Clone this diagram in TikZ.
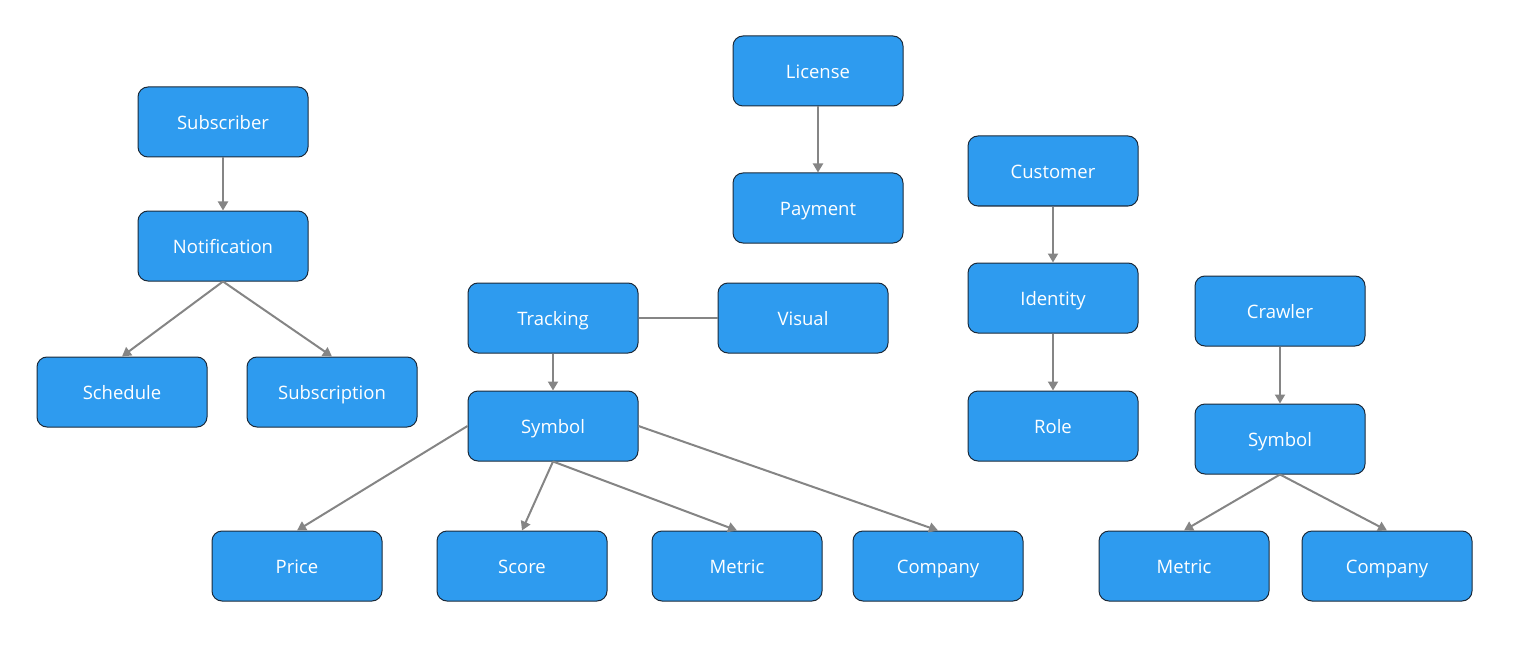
\documentclass[tikz,border=0pt]{standalone}
\usepackage{fontspec}
\setmainfont{Open Sans}
\usetikzlibrary{arrows.meta}
\definecolor{boxblue}{HTML}{2E9BEF}
\definecolor{boxline}{HTML}{1B2A3A}
\definecolor{linkgray}{HTML}{858585}
\begin{document}
\begin{tikzpicture}[x=1pt,y=-1pt,
  entity/.style={shape=rectangle,rounded corners=10pt,draw=boxline,line width=1pt,fill=boxblue,
    text=white,minimum width=170pt,minimum height=70pt,text height=15pt,text depth=0pt,
    font=\fontsize{18.5}{22}\selectfont},
  link/.style={draw=linkgray,line width=2pt},
  rel/.style={link,-{Triangle[length=9pt,width=10pt]}}]
\useasboundingbox (0,0) rectangle (1525,655);
\node[entity] at (223, 122) (subscriber) {Subscriber};
\node[entity] at (223, 246) (notification) {Notification};
\node[entity] at (122, 392) (schedule) {Schedule};
\node[entity] at (332, 392) (subscription) {Subscription};
\node[entity] at (818, 71) (license) {License};
\node[entity] at (818, 208) (payment) {Payment};
\node[entity] at (1053, 171) (customer) {Customer};
\node[entity] at (1053, 298) (identity) {Identity};
\node[entity] at (1053, 426) (role) {Role};
\node[entity] at (553, 318) (tracking) {Tracking};
\node[entity] at (803, 318) (visual) {Visual};
\node[entity] at (553, 426) (symbol) {Symbol};
\node[entity] at (297, 566) (price) {Price};
\node[entity] at (522, 566) (score) {Score};
\node[entity] at (737, 566) (metric) {Metric};
\node[entity] at (938, 566) (company) {Company};
\node[entity] at (1280, 311) (crawler) {Crawler};
\node[entity] at (1280, 439) (csymbol) {Symbol};
\node[entity] at (1184, 566) (cmetric) {Metric};
\node[entity] at (1387, 566) (ccompany) {Company};
\draw[rel] (subscriber) -- (notification);
\draw[rel] (notification.south) -- (schedule.north);
\draw[rel] (notification.south) -- (subscription.north);
\draw[rel] (license) -- (payment);
\draw[rel] (customer) -- (identity);
\draw[rel] (identity) -- (role);
\draw[link] (tracking) -- (visual);
\draw[rel] (tracking) -- (symbol);
\draw[rel] (symbol.west) -- (price.north);
\draw[rel] (symbol.south) -- (score.north);
\draw[rel] (symbol.south) -- (metric.north);
\draw[rel] (symbol.east) -- (company.north);
\draw[rel] (crawler) -- (csymbol);
\draw[rel] (csymbol.south) -- (cmetric.north);
\draw[rel] (csymbol.south) -- (ccompany.north);
\end{tikzpicture}
\end{document}
